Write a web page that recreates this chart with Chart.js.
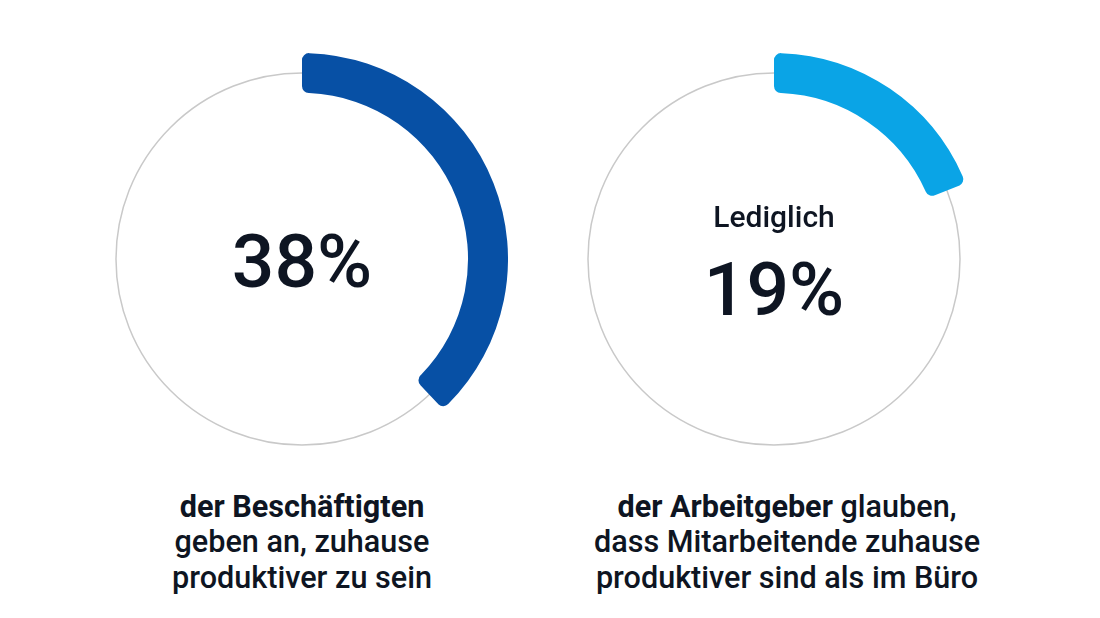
<!DOCTYPE html>
<html>
<head>
<meta charset="utf-8">
<script src="https://cdn.jsdelivr.net/npm/chart.js@4"></script>
<style>
    body { margin: 0; background: #fff; font-family: Roboto, sans-serif; color: #0e1522; }
    #wrap { position: relative; width: 1100px; height: 618px; overflow: hidden; }
    canvas { position: absolute; }
    .cap { position: absolute; width: 480px; text-align: center; font-size: 30.6px; font-weight: 500; line-height: 35.5px; top: 488.5px; }
    .cap b { font-weight: 700; }
</style>
</head>
<body>
<div id="wrap">
    <canvas id="chartLeft" width="412" height="412" style="left:96px;top:53px"></canvas>
    <canvas id="chartRight" width="412" height="412" style="left:568px;top:53px"></canvas>
    <div class="cap" style="left:62px"><b>der Beschäftigten</b><br>geben an, zuhause<br>produktiver zu sein</div>
    <div class="cap" style="left:547px"><b>der Arbeitgeber</b> glauben,<br>dass Mitarbeitende zuhause<br>produktiver sind als im Büro</div>
</div>
<script>
'use strict';

// values
const groups = ['Beschäftigte', 'Arbeitgeber'];
const shares = [38, 19];
const prefixes = ['', 'Lediglich'];
const arcColors = ['#0750a5', '#0aa4e6'];

// gray track circle + the text inside the ring
const ringPlugin = {
    id: 'ring',
    beforeDatasetsDraw(chart) {
        const arc = chart.getDatasetMeta(0).data[0];
        const r = (arc.innerRadius + arc.outerRadius) / 2;
        const ctx = chart.ctx;
        ctx.save();
        ctx.beginPath();
        ctx.arc(arc.x, arc.y, r, 0, Math.PI * 2);
        ctx.strokeStyle = '#c9c9c9';
        ctx.lineWidth = 1.5;
        ctx.stroke();
        ctx.restore();
    },
    afterDatasetsDraw(chart, args, opts) {
        const arc = chart.getDatasetMeta(0).data[0];
        const ctx = chart.ctx;
        ctx.save();
        ctx.fillStyle = '#0e1522';
        ctx.textAlign = 'center';
        ctx.textBaseline = 'alphabetic';
        if (opts.prefix) {
            ctx.font = '500 30px Roboto';
            ctx.fillText(opts.prefix, arc.x, arc.y - 32);
            ctx.font = '500 75px Roboto';
            ctx.fillText(opts.value, arc.x, arc.y + 56);
        } else {
            ctx.font = '500 75px Roboto';
            ctx.fillText(opts.value, arc.x, arc.y + 28);
        }
        ctx.restore();
    }
};

function makeChart(id, i) {
    const ctx = document.getElementById(id).getContext('2d');
    return new Chart(ctx, {
        type: 'doughnut',
        data: {
            labels: [groups[i], 'Rest'],
            datasets: [{
                data: [shares[i], 100 - shares[i]],
                backgroundColor: [arcColors[i], 'rgba(0,0,0,0)'],
                borderWidth: 0,
                borderRadius: 7,
                hoverOffset: 0
            }]
        },
        options: {
            responsive: false,
            animation: false,
            cutout: '80.6%',
            events: [],
            plugins: {
                legend: { display: false },
                tooltip: { enabled: false },
                ring: { value: shares[i] + '%', prefix: prefixes[i] }
            }
        },
        plugins: [ringPlugin]
    });
}

makeChart('chartLeft', 0);
makeChart('chartRight', 1);
</script>
</body>
</html>
